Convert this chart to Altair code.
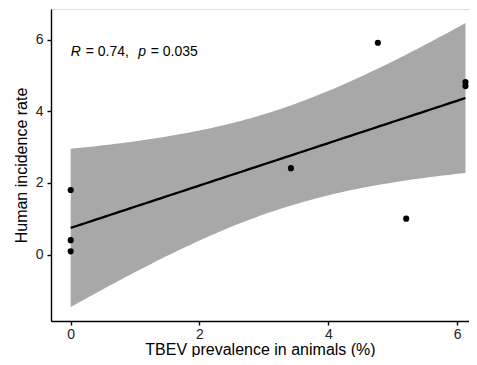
import altair as alt
import numpy as np
import pandas as pd

# Data
prevalence = [0.0, 0.0, 0.0, 3.42, 4.77, 5.21, 6.13, 6.13]
incidence = [1.80, 0.40, 0.09, 2.41, 5.91, 1.00, 4.81, 4.70]
x_ticks = [0, 2, 4, 6]
y_ticks = [0, 2, 4, 6]
annot_x = 0.0
annot_y = 5.65

pts = pd.DataFrame({"x": prevalence, "y": incidence})

# Linear fit with 95% confidence band (as in ggplot geom_smooth(method="lm"))
xa = np.array(prevalence)
ya = np.array(incidence)
n = len(xa)
mx = xa.mean()
sxx = ((xa - mx) ** 2).sum()
slope = ((xa - mx) * (ya - ya.mean())).sum() / sxx
intercept = ya.mean() - slope * mx
resid = ya - (intercept + slope * xa)
s = np.sqrt((resid ** 2).sum() / (n - 2))
tval = 2.446912  # t(0.975, df=6)
gx = np.linspace(xa.min(), xa.max(), 80)
fit = intercept + slope * gx
se = s * np.sqrt(1 / n + (gx - mx) ** 2 / sxx)
band = pd.DataFrame({"x": gx, "fit": fit, "lo": fit - tval * se, "hi": fit + tval * se})

FONT = "Liberation Sans"
xs = alt.Scale(domain=[-0.306, 6.185], nice=False, zero=False)
ys = alt.Scale(domain=[-1.855, 6.852], nice=False, zero=False)

xax = alt.Axis(values=x_ticks, title="TBEV prevalence in animals (%)", grid=False,
               domainColor="black", domainWidth=1.4, tickColor="black", tickWidth=1.4,
               tickSize=4, labelFontSize=14, labelColor="#222222", labelFont=FONT,
               labelPadding=2, titleFont=FONT, titleFontSize=16, titleFontWeight="normal",
               titleColor="black", titlePadding=0, format="d")
yax = alt.Axis(values=y_ticks, title="Human incidence rate", grid=False,
               domainColor="black", domainWidth=1.4, tickColor="black", tickWidth=1.4,
               tickSize=4, labelFontSize=14, labelColor="#222222", labelFont=FONT,
               labelPadding=4, titleFont=FONT, titleFontSize=16, titleFontWeight="normal",
               titleColor="black", titlePadding=6, format="d")

area = alt.Chart(band).mark_area(color="#a8a8a8", opacity=1).encode(
    x=alt.X("x:Q", scale=xs, axis=xax),
    y=alt.Y("lo:Q", scale=ys, axis=yax),
    y2="hi:Q",
)
line = alt.Chart(band).mark_line(color="black", strokeWidth=2.3).encode(
    x=alt.X("x:Q", scale=xs), y=alt.Y("fit:Q", scale=ys)
)
points = alt.Chart(pts).mark_circle(color="black", size=38, opacity=1).encode(
    x=alt.X("x:Q", scale=xs), y=alt.Y("y:Q", scale=ys)
)

annot = pd.DataFrame({"x": [annot_x], "y": [annot_y]})
NB = "\u00a0"
pieces = [("R", "italic", 0), ("=" + NB + "0.74,", "normal", 15),
          ("p", "italic", 67.5), ("=" + NB + "0.035", "normal", 80)]
texts = []
for txt, style, dx in pieces:
    texts.append(
        alt.Chart(annot).mark_text(text=txt, font=FONT, fontSize=14, fontStyle=style,
                                   align="left", baseline="middle", dx=dx, color="black").encode(
            x=alt.X("x:Q", scale=xs), y=alt.Y("y:Q", scale=ys)
        )
    )

chart = alt.layer(area, line, points, *texts).properties(
    width=418, height=312,
    autosize=alt.AutoSizeParams(type="none"),
    padding={"left": 43, "top": 1, "right": 0, "bottom": 36},
).configure_view(stroke=None).configure(background="white")

chart.save("out.html", embed_options={"renderer": "svg", "actions": False})
